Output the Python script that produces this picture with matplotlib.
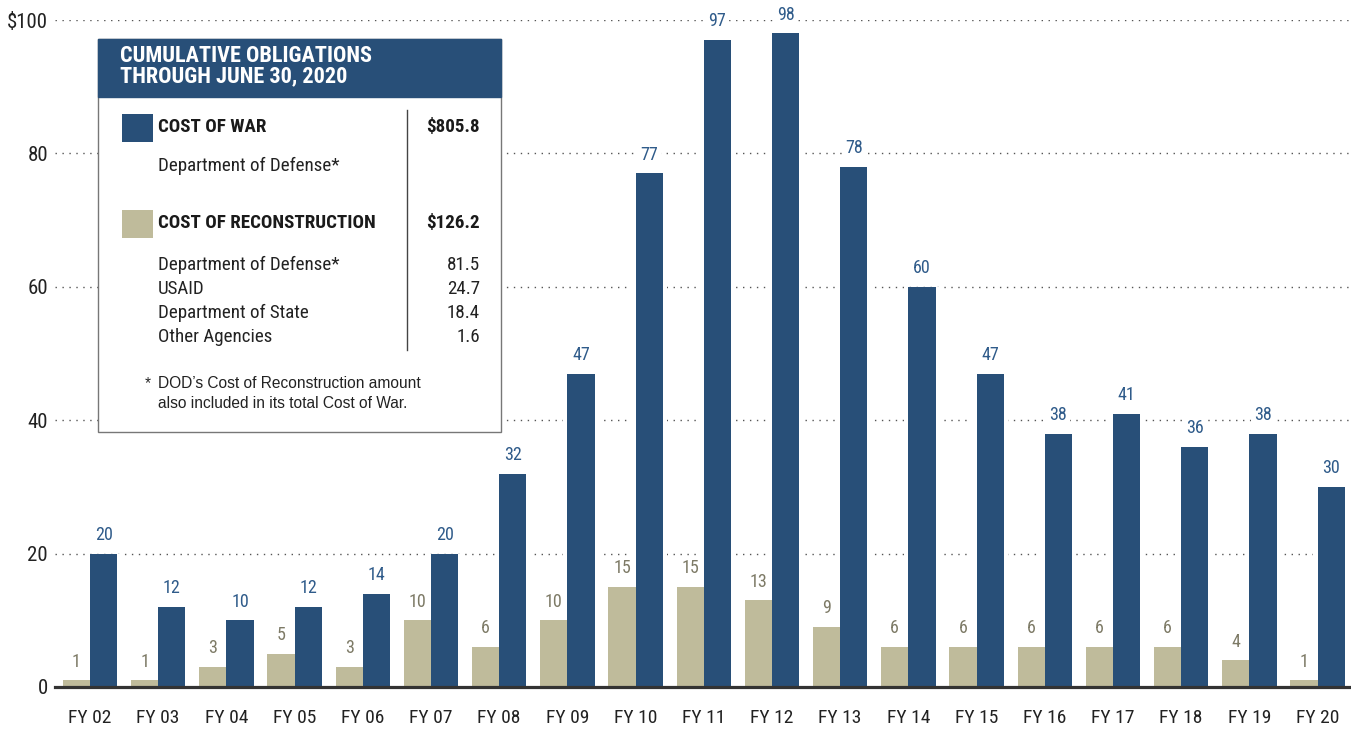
import matplotlib
matplotlib.use("Agg")
import matplotlib.pyplot as plt
from matplotlib.patches import Rectangle
from matplotlib.lines import Line2D
from matplotlib import font_manager

# ---- data ----
years = ["FY 02", "FY 03", "FY 04", "FY 05", "FY 06", "FY 07", "FY 08", "FY 09", "FY 10",
         "FY 11", "FY 12", "FY 13", "FY 14", "FY 15", "FY 16", "FY 17", "FY 18", "FY 19", "FY 20"]
cost_of_war = [20, 12, 10, 12, 14, 20, 32, 47, 77, 97, 98, 78, 60, 47, 38, 41, 36, 38, 30]
cost_of_recon = [1, 1, 3, 5, 3, 10, 6, 10, 15, 15, 13, 9, 6, 6, 6, 6, 6, 4, 1]
y_ticks = [0, 20, 40, 60, 80, 100]
y_tick_labels = ["0", "20", "40", "60", "80", "$100"]

legend_title = ["CUMULATIVE OBLIGATIONS", "THROUGH JUNE 30, 2020"]
war_total = "$805.8"
recon_total = "$126.2"
recon_agencies = ["Department of Defense*", "USAID", "Department of State", "Other Agencies"]
recon_amounts = ["81.5", "24.7", "18.4", "1.6"]

BLUE = "#284f78"
BEIGE = "#bfbb9b"
BLUE_TXT = "#2f5b8a"
BEIGE_TXT = "#7d7a66"

names = {f.name for f in font_manager.fontManager.ttflist}
NARROW = [f for f in ["Liberation Sans Narrow", "Roboto Condensed", "Open Sans Condensed"] if f in names]
FAM = NARROW + ["Liberation Sans", "DejaVu Sans"]
plt.rcParams['font.family'] = FAM

W, H = 1351, 732
fig = plt.figure(figsize=(W / 100, H / 100), dpi=100)

left_px, right_px, zero_px, top_px = 55, 1351, 687, 20
ax = fig.add_axes([left_px / W, 1 - zero_px / H, (right_px - left_px) / W, (zero_px - top_px) / H])

n = len(years)
xs = list(range(n))
bw = 0.4
ax.set_xlim(-0.513, -0.513 + (right_px - left_px) / 68.2)
ax.set_ylim(0, 100)

# gridlines
for t in y_ticks[1:]:
    ax.axhline(t, color="#555555", lw=1.0, ls=(0, (1, 4)), zorder=0.5)

# white padding behind bars
ax.bar([x + 0.2 for x in xs], cost_of_war, width=bw + 0.12, color="white", zorder=1)
ax.bar([x - 0.2 for x in xs], cost_of_recon, width=bw + 0.12, color="white", zorder=1)

ax.bar([x - 0.2 for x in xs], cost_of_recon, width=bw, color=BEIGE, zorder=2)
ax.bar([x + 0.2 for x in xs], cost_of_war, width=bw, color=BLUE, zorder=2)

for x, v in zip(xs, cost_of_war):
    ax.annotate(str(v), (x + 0.2, v), xytext=(0, 7), textcoords="offset points",
                ha="center", va="bottom", fontsize=13, color=BLUE_TXT, zorder=3,
                bbox=dict(boxstyle="square,pad=0.15", fc="white", ec="none"), annotation_clip=False)
for x, v in zip(xs, cost_of_recon):
    ax.annotate(str(v), (x - 0.2, v), xytext=(0, 7), textcoords="offset points",
                ha="center", va="bottom", fontsize=13, color=BEIGE_TXT, zorder=3,
                bbox=dict(boxstyle="square,pad=0.15", fc="white", ec="none"), annotation_clip=False)

ax.axhline(0, color="#333333", lw=2.3, zorder=4, clip_on=False)

for s in ax.spines.values():
    s.set_visible(False)
ax.set_yticks(y_ticks)
ax.set_yticklabels(y_tick_labels, fontsize=15, color="#222222")
ax.set_xticks(xs)
ax.set_xticklabels(years, fontsize=14, color="#222222")
ax.tick_params(axis="y", length=0, pad=5)
ax.tick_params(axis="x", length=0, pad=16)

# ---- legend box (figure pixel coordinates) ----
def fx(px):
    return px / W

def fy(py):
    return 1 - py / H

box_l, box_r, box_t, box_b, head_b = 98, 501, 39, 432, 97
fig.patches.append(Rectangle((fx(box_l), fy(box_b)), fx(box_r - box_l), (box_b - box_t) / H,
                             transform=fig.transFigure, fc="white", ec="#777777", lw=1.0, zorder=5))
fig.patches.append(Rectangle((fx(box_l), fy(head_b)), fx(box_r - box_l), (head_b - box_t) / H,
                             transform=fig.transFigure, fc=BLUE, ec=BLUE, lw=1.0, zorder=6))
fig.text(fx(120), fy(56), legend_title[0], color="white", fontsize=16, fontweight="bold",
         va="center", ha="left", zorder=7)
fig.text(fx(120), fy(76), legend_title[1], color="white", fontsize=16, fontweight="bold",
         va="center", ha="left", zorder=7)

fig.patches.append(Rectangle((fx(122), fy(142)), fx(31), 28 / H, transform=fig.transFigure,
                             fc=BLUE, ec="none", zorder=7))
fig.patches.append(Rectangle((fx(122), fy(238)), fx(31), 28 / H, transform=fig.transFigure,
                             fc=BEIGE, ec="none", zorder=7))
fig.lines.append(Line2D([fx(406.5), fx(406.5)], [fy(110), fy(350)], transform=fig.transFigure,
                        color="#444444", lw=1.0, zorder=7))

fs = 13.7
fig.text(fx(158), fy(127), "COST OF WAR", fontsize=fs, fontweight="bold", color="#1a1a1a",
         va="center", ha="left", zorder=8)
fig.text(fx(480), fy(127), war_total, fontsize=fs, fontweight="bold", color="#1a1a1a",
         va="center", ha="right", zorder=8)
fig.text(fx(158), fy(166), "Department of Defense*", fontsize=fs, color="#222222",
         va="center", ha="left", zorder=8)
fig.text(fx(158), fy(223), "COST OF RECONSTRUCTION", fontsize=fs, fontweight="bold", color="#1a1a1a",
         va="center", ha="left", zorder=8)
fig.text(fx(480), fy(223), recon_total, fontsize=fs, fontweight="bold", color="#1a1a1a",
         va="center", ha="right", zorder=8)
for i, (name, amt) in enumerate(zip(recon_agencies, recon_amounts)):
    yy = 265 + i * 24
    fig.text(fx(158), fy(yy), name, fontsize=fs, color="#222222", va="center", ha="left", zorder=8)
    fig.text(fx(480), fy(yy), amt, fontsize=fs, color="#222222", va="center", ha="right", zorder=8)

fig.text(fx(145), fy(384), "*", fontsize=11.2, color="#222222", va="center", ha="left", zorder=8,
         family=["Liberation Sans", "DejaVu Sans"])
fig.text(fx(158), fy(384), "DOD\u2019s Cost of Reconstruction amount", fontsize=11.2, color="#222222",
         va="center", ha="left", zorder=8, family=["Liberation Sans", "DejaVu Sans"])
fig.text(fx(158), fy(403), "also included in its total Cost of War.", fontsize=11.2, color="#222222",
         va="center", ha="left", zorder=8, family=["Liberation Sans", "DejaVu Sans"])

fig.savefig("out.png", dpi=100)
